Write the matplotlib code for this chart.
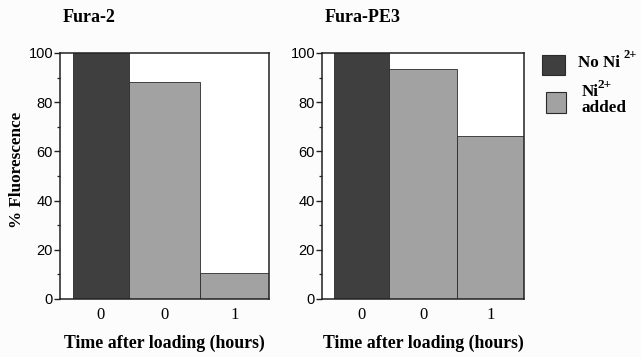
import matplotlib
matplotlib.use("Agg")
import matplotlib.pyplot as plt
from matplotlib.patches import Rectangle
from matplotlib.ticker import MultipleLocator

# Data
conditions = ["No Ni", "Ni", "added"]
time_labels = ["0", "0", "1"]
fura2_values = [100, 88.3, 10.6]
furape3_values = [100, 93.6, 66.4]
panel_titles = ["Fura-2", "Fura-PE3"]

DARK = "#3f3f3f"
LIGHT = "#a2a2a2"
EDGE = "#2a2a2a"
bar_colors = [DARK, LIGHT, LIGHT]

# bar edges along each panel (axes-fraction units)
edges = [0.06, 0.33, 0.67, 1.0]

SERIF = ["Liberation Serif", "DejaVu Serif"]
SANS = ["Liberation Sans", "DejaVu Sans"]

fig = plt.figure(figsize=(6.41, 3.57), dpi=100)
fig.patch.set_facecolor("#fcfcfc")

W, H = 641, 357
axes_rects = [
    [60 / W, 1 - 299 / H, 209 / W, 246 / H],
    [322 / W, 1 - 299 / H, 202 / W, 246 / H],
]

for rect, values, title in zip(axes_rects, [fura2_values, furape3_values], panel_titles):
    ax = fig.add_axes(rect)
    ax.set_facecolor("white")
    lefts = edges[:-1]
    widths = [edges[i + 1] - edges[i] for i in range(len(values))]
    ax.bar(lefts, values, width=widths, align="edge", color=bar_colors,
           edgecolor=EDGE, linewidth=0.6)
    ax.set_xlim(0, 1)
    ax.set_ylim(0, 100)
    centers = [l + w / 2 for l, w in zip(lefts, widths)]
    ax.set_xticks(centers)
    ax.set_xticklabels(time_labels, fontfamily=SERIF, fontsize=12)
    ax.tick_params(axis="x", length=0, pad=6)
    ax.yaxis.set_major_locator(MultipleLocator(20))
    ax.yaxis.set_minor_locator(MultipleLocator(10))
    ax.tick_params(axis="y", which="major", length=4, width=1.0, pad=1,
                   labelsize=10.5, color="#222222")
    ax.tick_params(axis="y", which="minor", length=2, width=0.9, color="#222222")
    for lab in ax.get_yticklabels():
        lab.set_fontfamily(SANS)
    for sp in ax.spines.values():
        sp.set_linewidth(1.1)
        sp.set_color("#222222")
    ax.set_xlabel("Time after loading (hours)", fontfamily=SERIF, fontsize=12.8,
                  fontweight="bold", labelpad=8)
    ax.text(0.015, 1.125, title, transform=ax.transAxes, fontfamily=SERIF,
            fontsize=13, fontweight="bold", ha="left", va="baseline")

fig.text(17 / W, 1 - 170 / H, "% Fluorescence", rotation=90, ha="center",
         va="center", fontfamily=SERIF, fontsize=12.3, fontweight="bold")

# Legend swatches
fig.patches.append(Rectangle((542 / W, 1 - 75 / H), 23 / W, 20 / H,
                             transform=fig.transFigure, facecolor=DARK,
                             edgecolor=EDGE, linewidth=0.8))
fig.patches.append(Rectangle((546 / W, 1 - 113 / H), 20 / W, 21 / H,
                             transform=fig.transFigure, facecolor=LIGHT,
                             edgecolor=EDGE, linewidth=0.8))

# Legend labels with superscript charges
leg_font = dict(fontfamily=SERIF, fontweight="bold", ha="left")
fig.text(578 / W, 1 - 67 / H, conditions[0], va="baseline", fontsize=12.3, **leg_font)
fig.text(623 / W, 1 - 58 / H, "2+", va="baseline", fontsize=9, **leg_font)
fig.text(582 / W, 1 - 96 / H, conditions[1], va="baseline", fontsize=12.3, **leg_font)
fig.text(598 / W, 1 - 88 / H, "2+", va="baseline", fontsize=9.5, **leg_font)
fig.text(581 / W, 1 - 112 / H, conditions[2], va="baseline", fontsize=12.3, **leg_font)

fig.savefig("out.png", dpi=100, facecolor=fig.get_facecolor())
